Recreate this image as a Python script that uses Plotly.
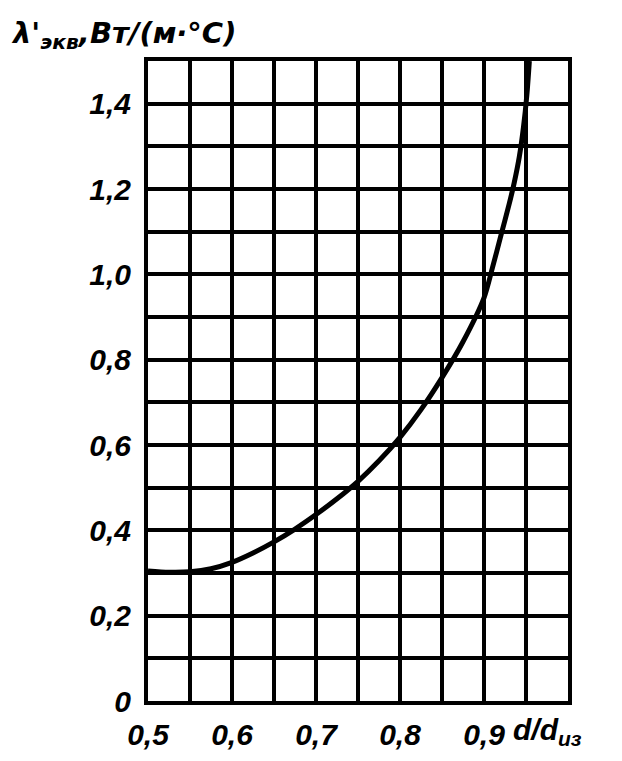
import plotly.graph_objects as go

# curve data
ratio_d = [0.5, 0.525, 0.55, 0.575, 0.6, 0.625, 0.65, 0.675, 0.7, 0.725, 0.75,
           0.775, 0.8, 0.825, 0.85, 0.875, 0.9, 0.91, 0.92, 0.93, 0.936, 0.942,
           0.947, 0.951, 0.954]
lambda_eq = [0.305, 0.302, 0.303, 0.31, 0.325, 0.347, 0.373, 0.403, 0.437, 0.474,
             0.515, 0.563, 0.618, 0.683, 0.758, 0.842, 0.945, 1.015, 1.09, 1.165,
             1.215, 1.275, 1.345, 1.42, 1.5]

x_tickvals = [0.5, 0.6, 0.7, 0.8, 0.9]
x_ticktext = ["0,5", "0,6", "0,7", "0,8", "0,9"]
y_tickvals = [0, 0.2, 0.4, 0.6, 0.8, 1.0, 1.2, 1.4]
y_ticktext = ["0", "0,2", "0,4", "0,6", "0,8", "1,0", "1,2", "1,4"]

FONT = "Liberation Sans, Arial"
TITLE_FONT = "DejaVu Sans, Liberation Sans"

fig = go.Figure()
fig.add_trace(go.Scatter(x=ratio_d, y=lambda_eq, mode="lines",
                         line=dict(color="black", width=5, shape="spline",
                                   smoothing=0.8),
                         showlegend=False))

axis_common = dict(showgrid=True, gridcolor="black", gridwidth=3.5,
                   showline=True, linecolor="black", linewidth=4, mirror=True,
                   zeroline=False, ticks="",
                   tickfont=dict(family=FONT, size=30, color="black",
                                 style="italic", weight="bold"))

fig.update_layout(
    width=622, height=761,
    margin=dict(l=140, r=62, t=53, b=68),
    paper_bgcolor="white", plot_bgcolor="white",
    xaxis=dict(range=[0.5, 1.0], tickmode="array", tickvals=x_tickvals,
               ticktext=x_ticktext, ticklabelstandoff=4,
               minor=dict(showgrid=True, gridcolor="black", gridwidth=3.5,
                          tick0=0.5, dtick=0.05, ticks=""),
               **axis_common),
    yaxis=dict(range=[0, 1.5], tickmode="array", tickvals=y_tickvals,
               ticktext=y_ticktext, ticklabelstandoff=7,
               minor=dict(showgrid=True, gridcolor="black", gridwidth=3.5,
                          tick0=0, dtick=0.1, ticks=""),
               **axis_common),
    annotations=[
        dict(text="λ'<sub>экв</sub>,Вт/(м·°С)", xref="paper", yref="paper",
             x=-0.33, y=1.04, xanchor="left", yanchor="middle", showarrow=False,
             font=dict(family=TITLE_FONT, size=29, color="black", style="italic",
                       weight="bold")),
        dict(text="d/d<sub>из</sub>", xref="paper", yref="paper",
             x=0.865, y=-0.048, xanchor="left", yanchor="middle", showarrow=False,
             font=dict(family=FONT, size=30, color="black", style="italic",
                       weight="bold")),
    ],
)

fig.write_html("out.html")
